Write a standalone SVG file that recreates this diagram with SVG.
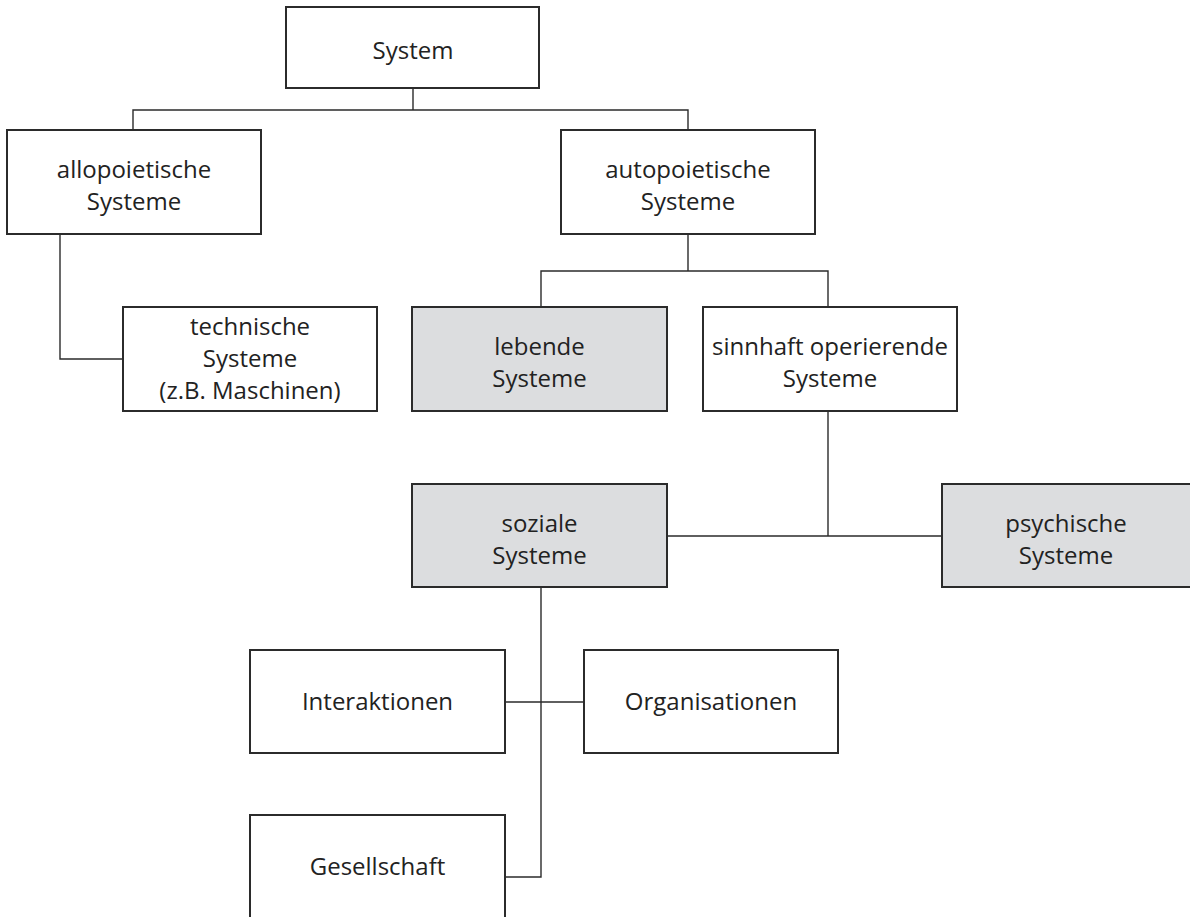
<svg xmlns="http://www.w3.org/2000/svg" width="1190" height="917" viewBox="0 0 1190 917">
<style>
rect.b{fill:#ffffff;stroke:#2b2b2b;stroke-width:2}
rect.g{fill:#dcdddf;stroke:#2b2b2b;stroke-width:2}
text{font-family:"Open Sans","Liberation Sans",Arial,sans-serif;font-size:24px;fill:#222222;text-anchor:middle}
#connectors path{fill:none;stroke:#2b2b2b;stroke-width:1.4}
</style>
<rect x="0" y="0" width="1190" height="917" fill="#ffffff"/>
<g id="connectors">
<path d="M413 88 V110 M133 130 V110 H688 V130"/>
<path d="M60 234 V359 H123"/>
<path d="M688 234 V271 M541 307 V271 H828 V307"/>
<path d="M828 411 V536 M667 536 H942"/>
<path d="M541 587 V877 H505 M505 702 H584"/>
</g>
<g id="system"><rect class="b" x="286" y="7" width="253" height="81"/><text x="413" y="59">System</text></g>
<g id="allopoietisch"><rect class="b" x="7" y="130" width="254" height="104"/><text x="134" y="178">allopoietische</text><text x="134" y="210">Systeme</text></g>
<g id="autopoietisch"><rect class="b" x="561" y="130" width="254" height="104"/><text x="688" y="178">autopoietische</text><text x="688" y="210">Systeme</text></g>
<g id="technisch"><rect class="b" x="123" y="307" width="254" height="104"/><text x="250" y="335">technische</text><text x="250" y="367">Systeme</text><text x="250" y="399">(z.B. Maschinen)</text></g>
<g id="lebend"><rect class="g" x="412" y="307" width="255" height="104"/><text x="539.5" y="355">lebende</text><text x="539.5" y="387">Systeme</text></g>
<g id="sinnhaft"><rect class="b" x="703" y="307" width="254" height="104"/><text x="830" y="355">sinnhaft operierende</text><text x="830" y="387">Systeme</text></g>
<g id="sozial"><rect class="g" x="412" y="484" width="255" height="103"/><text x="539.5" y="532">soziale</text><text x="539.5" y="564">Systeme</text></g>
<g id="psychisch"><rect class="g" x="942" y="484" width="250" height="103"/><text x="1066" y="532">psychische</text><text x="1066" y="564">Systeme</text></g>
<g id="interaktionen"><rect class="b" x="250" y="650" width="255" height="103"/><text x="377.5" y="710">Interaktionen</text></g>
<g id="organisationen"><rect class="b" x="584" y="650" width="254" height="103"/><text x="711" y="710">Organisationen</text></g>
<g id="gesellschaft"><rect class="b" x="250" y="815" width="255" height="120"/><text x="377.5" y="875">Gesellschaft</text></g>
</svg>
